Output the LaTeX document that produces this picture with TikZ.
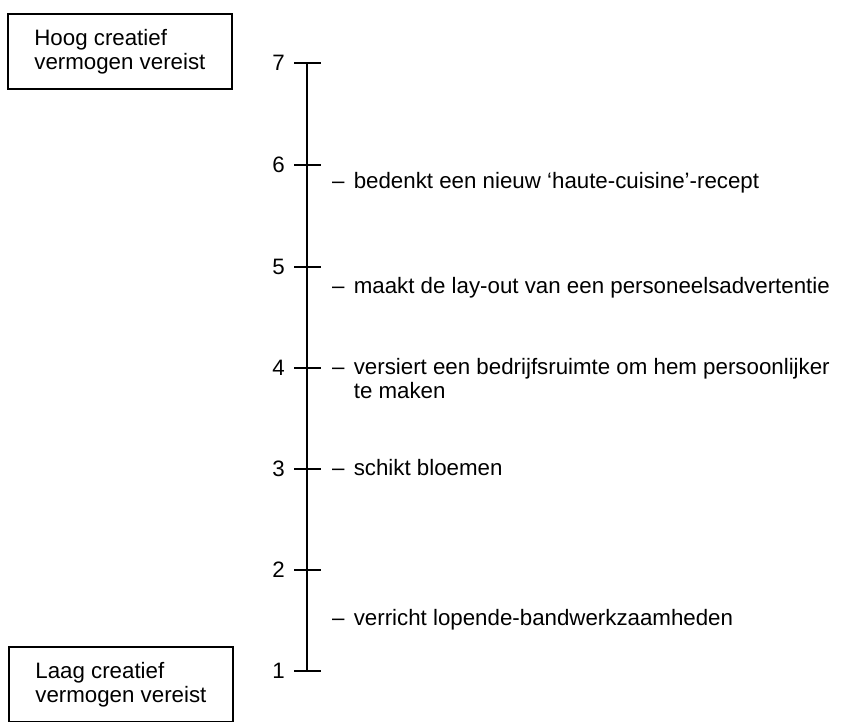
\documentclass[tikz,border=0pt]{standalone}
\usepackage{fontspec}
\setmainfont{Liberation Sans}
\begin{document}
\begin{tikzpicture}[x=1pt,y=-1pt,
  txt/.style={font=\fontsize{22.3}{24}\selectfont},
  lbl/.style={txt, inner sep=0pt, anchor=base west, align=left},
  num/.style={txt, inner sep=0pt, anchor=east},
  frame/.style={txt, draw, line width=1.8pt, minimum width=224pt, minimum height=75pt, align=left, inner sep=0pt},
  axisline/.style={line width=2.8pt},
  tickline/.style={line width=2.4pt}]
\useasboundingbox (0,0) rectangle (846,722);
% boxes
\node[frame, anchor=north west] (hoog) at (7,13) {Hoog creatief\\vermogen vereist};
\node[frame, anchor=north west] (laag) at (8,646) {Laag creatief\\vermogen vereist};
% tick positions
\foreach \n/\yy in {7/63,6/165,5/267,4/368,3/469,2/570,1/671}{
  \coordinate (t\n) at (307,\yy);
  \draw[tickline] ([xshift=-13pt]t\n) -- ([xshift=14pt]t\n);
  \node[num] (n\n) at ([xshift=-22pt]t\n) {\n};
}
\draw[axisline] (t7) -- (t1);
% items
\node[lbl] (i6) at (332,189) {–\hspace{3pt} bedenkt een nieuw ‘haute-cuisine’-recept};
\node[lbl] (i5) at (332,293) {–\hspace{3pt} maakt de lay-out van een personeelsadvertentie};
\node[lbl] (i4) at (332,398) {–\hspace{3pt} versiert een bedrijfsruimte om hem persoonlijker\\\phantom{–\hspace{3pt}\ }te maken};
\node[lbl] (i3) at (332,475) {–\hspace{3pt} schikt bloemen};
\node[lbl] (i1) at (332,625) {–\hspace{3pt} verricht lopende-bandwerkzaamheden};
\end{tikzpicture}
\end{document}
